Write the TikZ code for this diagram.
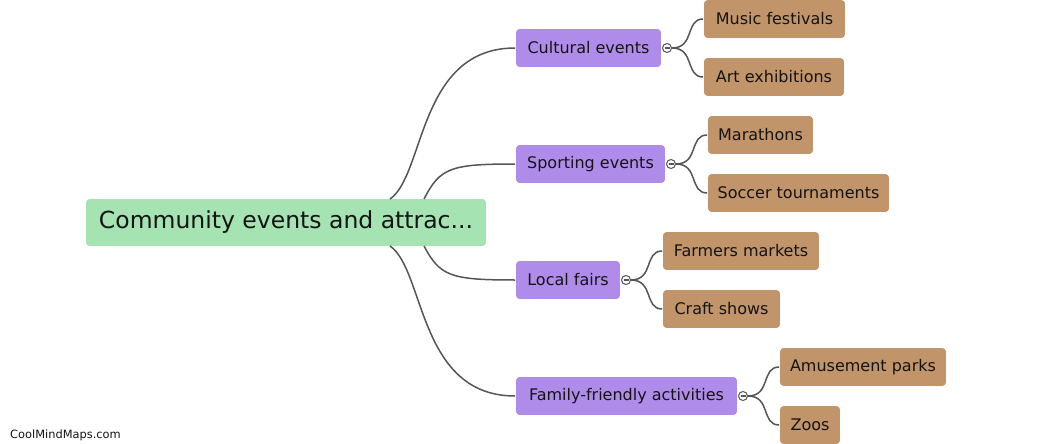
\documentclass[tikz,border=0pt]{standalone}
\usepackage{fontspec}
\setmainfont{DejaVu Sans}
\definecolor{rootg}{HTML}{A5E3B3}
\definecolor{midp}{HTML}{B08CEA}
\definecolor{leafb}{HTML}{C1946A}
\definecolor{linec}{HTML}{555555}
\definecolor{txt}{HTML}{141414}
\begin{document}
\begin{tikzpicture}[x=1pt,y=-1pt,
  rootbox/.style={fill=rootg, draw=white, line width=0.8pt, rounded corners=4pt, minimum height=48, inner sep=0, text=txt, font=\fontsize{23.5}{27}\selectfont},
  midbox/.style={fill=midp, draw=white, line width=0.8pt, rounded corners=4pt, minimum height=39, inner sep=0, text=txt, font=\fontsize{16}{19}\selectfont},
  leafbox/.style={fill=leafb, draw=white, line width=0.8pt, rounded corners=4pt, minimum height=39, inner sep=0, text=txt, font=\fontsize{16}{19}\selectfont},
  conn/.style={draw=linec, line width=1.5pt},
  knob/.style={circle, draw=linec, fill=white, line width=1pt, minimum size=9, inner sep=0}
]
\useasboundingbox (0,0) rectangle (1045,444);

\node[rootbox, minimum width=401] (root) at (286,222.5) {Community events and attrac...};

\node[midbox, minimum width=146] (c1) at (588.5,48) {Cultural events};
\node[midbox, minimum width=150] (c2) at (590.5,164) {Sporting events};
\node[midbox, minimum width=105] (c3) at (568,280) {Local fairs};
\node[midbox, minimum width=222] (c4) at (626.5,396) {Family-friendly activities};

\node[leafbox, minimum width=142] (l1) at (774.5,19) {Music festivals};
\node[leafbox, minimum width=141] (l2) at (774,77) {Art exhibitions};
\node[leafbox, minimum width=106] (l3) at (760.5,135) {Marathons};
\node[leafbox, minimum width=182] (l4) at (798.5,193) {Soccer tournaments};
\node[leafbox, minimum width=157] (l5) at (741,251) {Farmers markets};
\node[leafbox, minimum width=118] (l6) at (721.5,309) {Craft shows};
\node[leafbox, minimum width=167] (l7) at (863,367) {Amusement parks};
\node[leafbox, minimum width=61] (l8) at (810,425) {Zoos};

\coordinate (r1) at (390,199);
\coordinate (r2) at (424,199);
\coordinate (r3) at (424,246);
\coordinate (r4) at (390,246);

\draw[conn] (r1) .. controls (425,175) and (418,48) .. (c1.west);
\draw[conn] (r2) .. controls (440,168) and (450,164) .. (c2.west);
\draw[conn] (r3) .. controls (440,276) and (450,280) .. (c3.west);
\draw[conn] (r4) .. controls (425,270) and (418,396) .. (c4.west);

\node[knob] (k1) at (667,48) {};
\node[knob] (k2) at (671,164) {};
\node[knob] (k3) at (626,280) {};
\node[knob] (k4) at (743,396) {};

\draw[conn] (k1.east) .. controls (695,48) and (685,19) .. (l1.west);
\draw[conn] (k1.east) .. controls (695,48) and (685,77) .. (l2.west);
\draw[conn] (k2.east) .. controls (699,164) and (689,135) .. (l3.west);
\draw[conn] (k2.east) .. controls (699,164) and (689,193) .. (l4.west);
\draw[conn] (k3.east) .. controls (654,280) and (644,251) .. (l5.west);
\draw[conn] (k3.east) .. controls (654,280) and (644,309) .. (l6.west);
\draw[conn] (k4.east) .. controls (771,396) and (761,367) .. (l7.west);
\draw[conn] (k4.east) .. controls (771,396) and (761,425) .. (l8.west);

\foreach \k in {k1,k2,k3,k4}
  \draw[linec, line width=1.6pt] ([xshift=-2.5pt]\k.center) -- ([xshift=2.5pt]\k.center);

\node[anchor=west, text=txt, font=\fontsize{11.4}{13}\selectfont, inner sep=0] (wm) at (10,435) {CoolMindMaps.com};
\end{tikzpicture}
\end{document}
